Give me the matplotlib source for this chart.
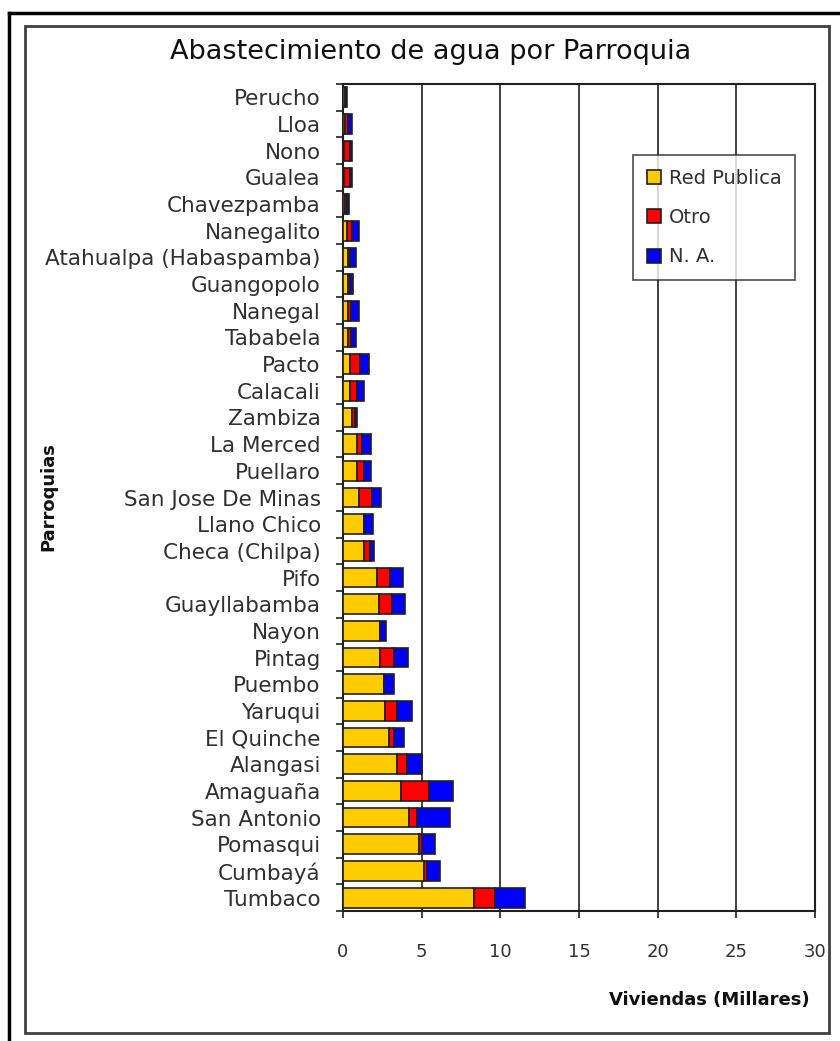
import matplotlib.pyplot as plt
import numpy as np
from matplotlib.patches import Rectangle
from matplotlib.lines import Line2D

# Parroquias, bottom to top, with dwellings (thousands) by water source
parroquias = [
    "Tumbaco", "Cumbayá", "Pomasqui", "San Antonio", "Amaguaña", "Alangasi",
    "El Quinche", "Yaruqui", "Puembo", "Pintag", "Nayon", "Guayllabamba",
    "Pifo", "Checa (Chilpa)", "Llano Chico", "San Jose De Minas", "Puellaro",
    "La Merced", "Zambiza", "Calacali", "Pacto", "Tababela", "Nanegal",
    "Guangopolo", "Atahualpa (Habaspamba)", "Nanegalito", "Chavezpamba",
    "Gualea", "Nono", "Lloa", "Perucho",
]
red_publica = [
    8.33, 5.17, 4.83, 4.19, 3.67, 3.45,
    2.90, 2.67, 2.58, 2.37, 2.35, 2.27,
    2.16, 1.31, 1.31, 1.00, 0.89,
    0.89, 0.57, 0.47, 0.47, 0.34, 0.34,
    0.34, 0.34, 0.27, 0.15,
    0.06, 0.06, 0.10, 0.10,
]
otro = [
    1.31, 0.19, 0.21, 0.53, 1.82, 0.64,
    0.34, 0.78, 0.00, 0.85, 0.00, 0.84,
    0.85, 0.41, 0.00, 0.84, 0.42,
    0.32, 0.19, 0.42, 0.63, 0.19, 0.19,
    0.10, 0.10, 0.32, 0.10,
    0.40, 0.40, 0.22, 0.06,
]
no_aplica = [
    1.93, 0.78, 0.79, 2.06, 1.50, 0.95,
    0.66, 0.96, 0.66, 0.89, 0.36, 0.81,
    0.78, 0.25, 0.58, 0.55, 0.45,
    0.55, 0.15, 0.42, 0.55, 0.30, 0.51,
    0.17, 0.39, 0.45, 0.13,
    0.09, 0.09, 0.23, 0.09,
]

series = [
    ("Red Publica", red_publica, "#FFCC00"),
    ("Otro", otro, "#FF0000"),
    ("N. A.", no_aplica, "#0000FF"),
]
x_ticks = [0, 5, 10, 15, 20, 25, 30]

FONT = "DejaVu Sans"
plt.rcParams["font.family"] = FONT

fig = plt.figure(figsize=(8.4, 10.41), dpi=100)
ax = fig.add_axes([343 / 840, 1 - 911 / 1041, 472 / 840, 827 / 1041])

n = len(parroquias)
y = np.arange(n)
left = np.zeros(n)
for label, values, color in series:
    vals = np.asarray(values)
    ax.barh(y, vals, left=left, height=0.74, color=color,
            edgecolor="#202020", linewidth=1.2, label=label, zorder=3)
    left += vals

ax.set_xlim(0, 30)
ax.set_ylim(-0.5, n - 0.5)
ax.set_xticks(x_ticks)
ax.set_xticklabels([str(t) for t in x_ticks], fontsize=13)
ax.xaxis.grid(True, color="#202020", linewidth=1.2, zorder=0)
ax.tick_params(axis="x", direction="out", length=5, width=1.2, pad=18,
               colors="#202020", labelcolor="#303030")

ax.set_yticks(y)
ax.set_yticklabels(parroquias, fontsize=15.5, color="#303030")
ax.set_yticks(np.arange(-0.5, n, 1.0), minor=True)
ax.tick_params(axis="y", which="major", length=0, pad=16)
ax.tick_params(axis="y", which="minor", direction="out", length=5, width=1.2,
               colors="#202020")

for spine in ax.spines.values():
    spine.set_linewidth(1.5)
    spine.set_color("#202020")

fig.text(431 / 840, 1 - 52 / 1041, "Abastecimiento de agua por Parroquia",
         fontsize=19.5, ha="center", va="center", color="#101010")

fig.text(48 / 840, 1 - 497 / 1041, "Parroquias", rotation=90, fontsize=13,
         fontweight="bold", ha="center", va="center", color="#101010")
fig.text(810 / 840, 1 - 1000 / 1041, "Viviendas (Millares)", fontsize=13,
         fontweight="bold", ha="right", va="center", color="#101010")

legend = ax.legend(loc="upper left", bbox_to_anchor=(290 / 472, 1 - 71 / 827),
                   frameon=True, fancybox=False, fontsize=14,
                   handlelength=0.75, handleheight=0.75, labelspacing=1.05,
                   handletextpad=0.4, borderpad=0.7, borderaxespad=0)
legend.get_frame().set_edgecolor("#202020")
legend.get_frame().set_linewidth(1.2)
legend.set_zorder(5)
for text in legend.get_texts():
    text.set_color("#303030")

# chart border and outer page lines
fig.add_artist(Rectangle((25 / 840, 1 - 1033 / 1041), 804 / 840, 1007 / 1041,
                         transform=fig.transFigure, fill=False,
                         edgecolor="#404040", linewidth=2))
fig.add_artist(Line2D([9 / 840, 1], [1 - 13 / 1041, 1 - 13 / 1041],
                      transform=fig.transFigure, color="black", linewidth=2.5))
fig.add_artist(Line2D([9 / 840, 9 / 840], [1 - 13 / 1041, 0],
                      transform=fig.transFigure, color="black", linewidth=2.5))

fig.savefig("out.png", dpi=100)
